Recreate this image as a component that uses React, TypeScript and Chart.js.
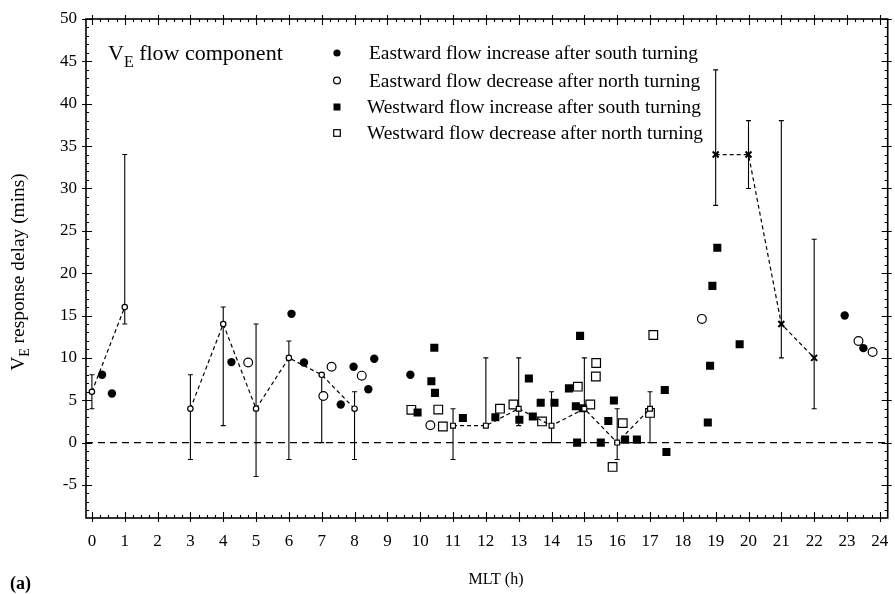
import React, { useEffect, useRef } from 'react';
import { Chart, registerables } from 'chart.js';

Chart.register(...registerables);

const FONT = "'Liberation Serif', 'Times New Roman', serif";

// Axis ticks
const xTicks = [0, 1, 2, 3, 4, 5, 6, 7, 8, 9, 10, 11, 12, 13, 14, 15, 16, 17, 18, 19, 20, 21, 22, 23, 24];
const yTicks = [-5, 0, 5, 10, 15, 20, 25, 30, 35, 40, 45, 50];

// Eastward flow increase after south turning (filled circles)
const eastIncX = [0.31, 0.61, 4.25, 6.08, 6.46, 7.58, 7.97, 8.42, 8.6, 9.7, 22.93, 23.5];
const eastIncY = [8.0, 5.8, 9.5, 15.2, 9.45, 4.5, 8.95, 6.3, 9.9, 8.0, 15.0, 11.15];

// Eastward flow decrease after north turning (open circles)
const eastDecX = [4.76, 7.05, 7.3, 8.22, 10.31, 18.58, 23.35, 23.78];
const eastDecY = [9.45, 5.5, 8.95, 7.9, 2.05, 14.6, 12.0, 10.7];

// Westward flow increase after south turning (filled squares)
const westIncX = [9.92, 10.34, 10.43, 10.45, 11.3, 12.29, 13.02, 13.31, 13.43, 13.67, 14.09, 14.53, 14.74, 14.78, 14.87, 14.95, 15.5, 15.73, 15.9, 16.24, 16.6, 17.45, 17.5, 18.76, 18.83, 18.9, 19.05, 19.73];
const westIncY = [3.55, 7.25, 11.2, 5.87, 2.9, 3.0, 2.7, 7.57, 3.07, 4.7, 4.7, 6.4, 4.3, 0.0, 12.6, 4.06, 0.0, 2.56, 4.97, 0.35, 0.35, 6.2, -1.1, 2.37, 9.07, 18.5, 23.0, 11.6];

// Westward flow decrease after north turning (open squares)
const westDecX = [9.73, 10.55, 10.69, 12.43, 12.84, 13.71, 14.8, 15.18, 15.35, 15.36, 15.86, 16.17, 17.0, 17.1];
const westDecY = [3.87, 3.9, 1.9, 4.0, 4.5, 2.5, 6.6, 4.5, 7.8, 9.4, -2.87, 2.3, 3.5, 12.7];

// Hourly averages with ranges (circles, 0-8 h)
const avgCircX = [0, 1, 3, 4, 5, 6, 7, 8];
const avgCircY = [6, 16, 4, 14, 4, 10, 8, 4];
const avgCircLo = [4, 14, -2, 2, -4, -2, 0, -2];
const avgCircHi = [8, 34, 8, 16, 14, 12, 8, 6];

// Hourly averages with ranges (squares, 11-17 h)
const avgSqX = [11, 12, 13, 14, 15, 16, 17];
const avgSqY = [2, 2, 4, 2, 4, 0, 4];
const avgSqLo = [-2, 2, 2, 0, 0, -2, 0];
const avgSqHi = [4, 10, 10, 6, 10, 4, 6];

// Hourly averages with ranges (crosses, 19-22 h)
const avgCrX = [19, 20, 21, 22];
const avgCrY = [34, 34, 14, 10];
const avgCrLo = [28, 30, 10, 4];
const avgCrHi = [44, 38, 38, 24];

const legendLabels = [
  'Eastward flow increase after south turning',
  'Eastward flow decrease after north turning',
  'Westward flow increase after south turning',
  'Westward flow decrease after north turning',
];

const pts = (xs: number[], ys: number[]) => xs.map((x, i) => ({ x, y: ys[i] }));

const gapSegment = {
  borderColor: (ctx: any) => (ctx.p1.parsed.x - ctx.p0.parsed.x > 1.5 ? 'rgba(0,0,0,0)' : '#000'),
};

const errorGroups = [
  { x: avgCircX, lo: avgCircLo, hi: avgCircHi },
  { x: avgSqX, lo: avgSqLo, hi: avgSqHi },
  { x: avgCrX, lo: avgCrLo, hi: avgCrHi },
];

const decorPlugin = {
  id: 'decor',
  beforeDatasetsDraw(chart: any) {
    const { ctx, chartArea: a, scales } = chart;
    const xs = scales.x;
    const ys = scales.y;
    ctx.save();
    // zero line
    ctx.strokeStyle = '#000';
    ctx.lineWidth = 1.2;
    ctx.setLineDash([7, 5]);
    const y0 = ys.getPixelForValue(0);
    ctx.beginPath();
    ctx.moveTo(a.left, y0);
    ctx.lineTo(a.right, y0);
    ctx.stroke();
    ctx.setLineDash([]);
    // error bars
    ctx.lineWidth = 1.1;
    errorGroups.forEach((g) => {
      g.x.forEach((xv, i) => {
        const px = xs.getPixelForValue(xv);
        const pt = ys.getPixelForValue(g.hi[i]);
        const pb = ys.getPixelForValue(g.lo[i]);
        ctx.beginPath();
        ctx.moveTo(px, pt);
        ctx.lineTo(px, pb);
        ctx.moveTo(px - 2.5, pt);
        ctx.lineTo(px + 2.5, pt);
        ctx.moveTo(px - 2.5, pb);
        ctx.lineTo(px + 2.5, pb);
        ctx.stroke();
      });
    });
    ctx.restore();
  },
  afterDraw(chart: any) {
    const { ctx, chartArea: a, scales } = chart;
    const xs = scales.x;
    const ys = scales.y;
    ctx.save();
    ctx.strokeStyle = '#000';
    ctx.fillStyle = '#000';
    // frame
    ctx.lineWidth = 1.6;
    ctx.strokeRect(a.left, a.top, a.right - a.left, a.bottom - a.top);
    // ticks (inward, majors also slightly outward)
    ctx.lineWidth = 1.1;
    ctx.beginPath();
    for (let h = 0; h <= 24.001; h += 0.25) {
      const px = Math.round(xs.getPixelForValue(h)) + 0.5;
      const major = Math.abs(h - Math.round(h)) < 1e-6;
      const inL = major ? 6 : 3;
      const outL = major ? 4 : 0;
      ctx.moveTo(px, a.bottom + outL);
      ctx.lineTo(px, a.bottom - inL);
      ctx.moveTo(px, a.top - outL);
      ctx.lineTo(px, a.top + inL);
    }
    for (let v = -8; v <= 50; v += 1) {
      const py = Math.round(ys.getPixelForValue(v)) + 0.5;
      const major = v % 5 === 0;
      const inL = major ? 6 : 3;
      const outL = major ? 4 : 0;
      ctx.moveTo(a.left - outL, py);
      ctx.lineTo(a.left + inL, py);
      ctx.moveTo(a.right + outL, py);
      ctx.lineTo(a.right - inL, py);
    }
    ctx.stroke();

    // in-plot title V_E flow component
    ctx.textAlign = 'left';
    ctx.textBaseline = 'alphabetic';
    let tx = 108;
    ctx.font = `22px ${FONT}`;
    ctx.fillText('V', tx, 60);
    tx += ctx.measureText('V').width;
    ctx.font = `16px ${FONT}`;
    ctx.fillText('E', tx, 66.5);
    tx += ctx.measureText('E').width;
    ctx.font = `22px ${FONT}`;
    ctx.fillText(' flow component', tx, 60);

    // legend
    const rowY = [53, 80.5, 107, 133];
    const mx = 337;
    ctx.lineWidth = 1.2;
    rowY.forEach((ry, i) => {
      ctx.beginPath();
      if (i === 0) {
        ctx.arc(mx, ry, 3.6, 0, Math.PI * 2);
        ctx.fill();
      } else if (i === 1) {
        ctx.arc(mx, ry, 3.4, 0, Math.PI * 2);
        ctx.stroke();
      } else if (i === 2) {
        ctx.fillRect(mx - 3.5, ry - 3.5, 7, 7);
      } else {
        ctx.strokeRect(mx - 3.3, ry - 3.3, 6.6, 6.6);
      }
      ctx.font = `19.4px ${FONT}`;
      ctx.fillText(legendLabels[i], i >= 2 ? 367 : 369, ry + 6);
    });

    // y axis title (rotated) with subscript
    ctx.save();
    ctx.translate(18, 272);
    ctx.rotate(-Math.PI / 2);
    ctx.font = `19.4px ${FONT}`;
    const wV = ctx.measureText('V').width;
    const rest = ' response delay (mins)';
    const wR = ctx.measureText(rest).width;
    ctx.font = `14px ${FONT}`;
    const wE = ctx.measureText('E').width;
    const total = wV + wE + wR;
    let sx = -total / 2;
    ctx.font = `19.4px ${FONT}`;
    ctx.fillText('V', sx, 6);
    sx += wV;
    ctx.font = `14px ${FONT}`;
    ctx.fillText('E', sx, 11);
    sx += wE;
    ctx.font = `19.4px ${FONT}`;
    ctx.fillText(rest, sx, 6);
    ctx.restore();

    // x axis title
    ctx.textAlign = 'center';
    ctx.font = `16px ${FONT}`;
    ctx.fillText('MLT (h)', 496, 584);
    // panel label
    ctx.textAlign = 'left';
    ctx.font = `bold 18px ${FONT}`;
    ctx.fillText('(a)', 10, 589);
    ctx.restore();
  },
};

export default function App() {
  const canvasRef = useRef<HTMLCanvasElement | null>(null);

  useEffect(() => {
    const canvas = canvasRef.current;
    if (!canvas) return;
    const black = '#000';
    const chart = new Chart(canvas, {
      type: 'scatter',
      data: {
        datasets: [
          {
            label: 'avgCircles',
            data: pts(avgCircX, avgCircY),
            showLine: true,
            borderColor: black,
            borderWidth: 1.2,
            borderDash: [4, 3],
            segment: gapSegment,
            pointStyle: 'circle',
            pointRadius: 2.7,
            pointBorderWidth: 1.2,
            pointBackgroundColor: '#fff',
            pointBorderColor: black,
          } as any,
          {
            label: 'avgSquares',
            data: pts(avgSqX, avgSqY),
            showLine: true,
            borderColor: black,
            borderWidth: 1.2,
            borderDash: [4, 3],
            segment: gapSegment,
            pointStyle: 'rect',
            pointRadius: 3.4,
            pointBorderWidth: 1.2,
            pointBackgroundColor: '#fff',
            pointBorderColor: black,
          } as any,
          {
            label: 'avgCrosses',
            data: pts(avgCrX, avgCrY),
            showLine: true,
            borderColor: black,
            borderWidth: 1.2,
            borderDash: [4, 3],
            segment: gapSegment,
            pointStyle: 'crossRot',
            pointRadius: 4.2,
            pointBorderWidth: 2,
            pointBorderColor: black,
          } as any,
          {
            label: legendLabels[0],
            data: pts(eastIncX, eastIncY),
            pointStyle: 'circle',
            pointRadius: 4.2,
            pointBorderWidth: 0,
            pointBackgroundColor: black,
            pointBorderColor: black,
          },
          {
            label: legendLabels[1],
            data: pts(eastDecX, eastDecY),
            pointStyle: 'circle',
            pointRadius: 4.4,
            pointBorderWidth: 1.2,
            pointBackgroundColor: '#fff',
            pointBorderColor: black,
          },
          {
            label: legendLabels[2],
            data: pts(westIncX, westIncY),
            pointStyle: 'rect',
            pointRadius: 5.7,
            pointBorderWidth: 0,
            pointBackgroundColor: black,
            pointBorderColor: black,
          },
          {
            label: legendLabels[3],
            data: pts(westDecX, westDecY),
            pointStyle: 'rect',
            pointRadius: 6.1,
            pointBorderWidth: 1.2,
            pointBackgroundColor: '#fff',
            pointBorderColor: black,
          },
        ],
      },
      options: {
        responsive: false,
        animation: false,
        devicePixelRatio: 1,
        layout: { padding: { top: 19, right: 1, left: 0, bottom: 0 } },
        plugins: {
          legend: { display: false },
          tooltip: { enabled: false },
          title: { display: false },
        },
        scales: {
          x: {
            type: 'linear',
            min: -0.18,
            max: 24.24,
            afterBuildTicks: (scale: any) => {
              scale.ticks = xTicks.map((v) => ({ value: v }));
            },
            afterFit: (scale: any) => {
              scale.height = 76;
              scale.paddingLeft = 0;
              scale.paddingRight = 0;
            },
            grid: { display: false, drawTicks: false },
            border: { display: false },
            ticks: {
              color: black,
              font: { family: FONT, size: 17 },
              padding: 13,
              maxRotation: 0,
              autoSkip: false,
              callback: (v: any) => String(v),
            },
          },
          y: {
            type: 'linear',
            min: -8.9,
            max: 50,
            afterBuildTicks: (scale: any) => {
              scale.ticks = yTicks.map((v) => ({ value: v }));
            },
            afterFit: (scale: any) => {
              scale.width = 86;
              scale.paddingTop = 0;
              scale.paddingBottom = 0;
            },
            grid: { display: false, drawTicks: false },
            border: { display: false },
            ticks: {
              color: black,
              font: { family: FONT, size: 17 },
              padding: 9,
              autoSkip: false,
              callback: (v: any) => String(v),
            },
          },
        },
      },
      plugins: [decorPlugin],
    });
    return () => chart.destroy();
  }, []);

  return (
    <div style={{ position: 'fixed', left: 0, top: 0, width: 895, height: 594, background: '#fff' }}>
      <canvas ref={canvasRef} width={895} height={594} style={{ width: 895, height: 594, display: 'block' }} />
    </div>
  );
}
